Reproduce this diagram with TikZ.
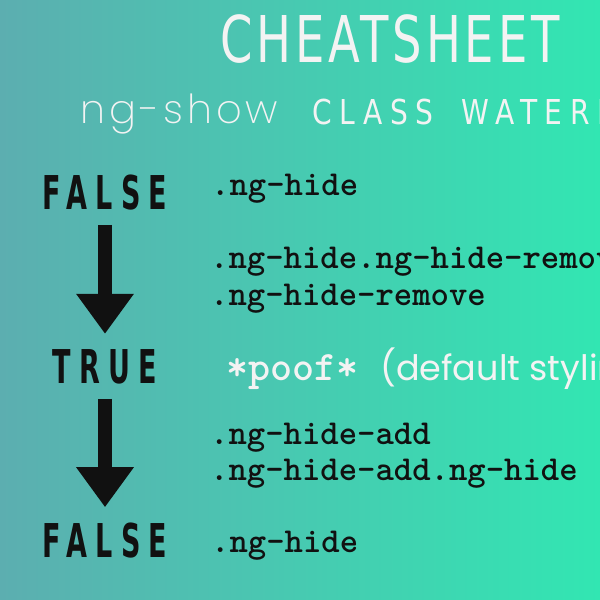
\documentclass[tikz,border=0pt]{standalone}
\usepackage{fontspec}
\usepackage{xcolor}
\usepackage{tikz}
\usetikzlibrary{%
  arrows.meta,
  positioning}
\newfontfamily\titlefont{DejaVu Sans}[FakeStretch=0.72,LetterSpace=6]
\newfontfamily\subfont{DejaVu Sans}[FakeStretch=0.82,LetterSpace=22]
\newfontfamily\statefont{DejaVu Sans Bold}[FakeStretch=0.58,LetterSpace=18]
\newfontfamily\thinfont{Poppins ExtraLight}[LetterSpace=10]
\newfontfamily\roundfont{Poppins}
\definecolor{bgleft}{RGB}{92,174,176}
\definecolor{bgright}{RGB}{50,230,178}
\definecolor{softwhite}{RGB}{243,243,243}
\definecolor{ink}{RGB}{17,17,17}
\tikzset{
  %% Heading texts
  headtext/.style={
    anchor=base west, inner sep=0pt, text=softwhite},
  %% TRUE / FALSE states
  statenode/.style={
    anchor=base, inner sep=0pt, text=ink,
    font=\statefont\fontsize{46.6}{47}\selectfont},
  %% Class names
  classnode/.style={
    anchor=base west, inner sep=0pt, text=ink,
    font=\ttfamily\bfseries\addfontfeatures{FakeBold=1.6}\fontsize{35}{35}\selectfont},
  %% Big down arrows
  flowarrow/.style={
    -{Triangle[length=40pt,width=55pt]}, line width=14pt, ink,
    shorten <=15pt, shorten >=15pt},
}
\begin{document}
\begin{tikzpicture}[x=1pt,y=-1pt]

  %% Background
  \useasboundingbox (0,0) rectangle (600,600);
  \clip (0,0) rectangle (600,600);
  \shade[left color=bgleft, right color=bgright] (0,0) rectangle (600,600);

  %% Title lines
  \node[headtext, font=\titlefont\fontsize{64.5}{65}\selectfont]
        (title) at (220,62) {CHEATSHEET};
  \node[headtext, font=\thinfont\fontsize{40}{40}\selectfont]
        (ngshow) at (80,123) {ng-show};
  \node[headtext, font=\subfont\fontsize{34.3}{35}\selectfont]
        (waterfall) at (312,124) {CLASS\hspace{12pt} WATERFALL};

  %% States
  \node[statenode] (falseA) at (105,209) {FALSE};
  \node[statenode] (trueB)  at (105,383) {TRUE};
  \node[statenode] (falseC) at (105,557) {FALSE};

  \draw[flowarrow] (falseA.south) -- (trueB.north);
  \draw[flowarrow] (trueB.south)  -- (falseC.north);

  %% Classes
  \node[classnode] (hideA) at (211,195) {.ng-hide};
  \node[classnode] (remA)  at (210,268) {.ng-hide.ng-hide-remove};
  \node[classnode] (remB)  at (210,305) {.ng-hide-remove};
  \node[classnode, text=softwhite,
        font=\ttfamily\bfseries\addfontfeatures{FakeBold=1.6}\fontsize{42}{42}\selectfont]
        (poof) at (226,380) {*poof*};
  \node[headtext, font=\roundfont\fontsize{35}{35}\selectfont]
        (dflt) at (380,380) {(default styling)};
  \node[classnode] (addA)  at (210,444) {.ng-hide-add};
  \node[classnode] (addB)  at (210,480) {.ng-hide-add.ng-hide};
  \node[classnode] (hideB) at (211,552) {.ng-hide};

\end{tikzpicture}
\end{document}
